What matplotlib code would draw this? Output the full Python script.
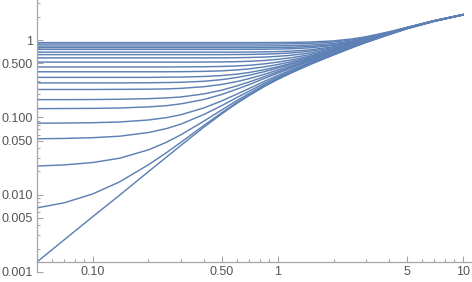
import numpy as np
import matplotlib
matplotlib.use("Agg")
import matplotlib.pyplot as plt
from matplotlib.ticker import LogLocator, NullFormatter

plt.rcParams['font.family'] = ['Liberation Sans', 'DejaVu Sans']

# sample positions along x
x_pts = [0.05, 0.07, 0.1, 0.14, 0.2, 0.25, 0.3, 0.4, 0.5, 0.6, 0.7,
         0.85, 1.0, 1.2, 1.5, 2.0, 2.5, 3.0, 4.0, 5.0, 7.0, 10.0]

# curves from top (flat level ~0.93) down to the lowest straight one
c01 = [0.93, 0.93, 0.93, 0.93, 0.93, 0.93, 0.93, 0.93, 0.93, 0.93, 0.93,
       0.931, 0.933, 0.937, 0.947, 0.979, 1.035, 1.109, 1.284, 1.470, 1.785, 2.135]
c02 = [0.89, 0.89, 0.89, 0.89, 0.89, 0.89, 0.89, 0.89, 0.89, 0.89, 0.89,
       0.891, 0.893, 0.898, 0.909, 0.946, 1.006, 1.086, 1.269, 1.460, 1.779, 2.131]
c03 = [0.84, 0.84, 0.84, 0.84, 0.84, 0.84, 0.84, 0.84, 0.84, 0.84, 0.84,
       0.842, 0.844, 0.849, 0.863, 0.905, 0.973, 1.060, 1.253, 1.450, 1.773, 2.128]
c04 = [0.80, 0.80, 0.80, 0.80, 0.80, 0.80, 0.80, 0.80, 0.80, 0.80, 0.80,
       0.802, 0.805, 0.810, 0.826, 0.873, 0.948, 1.041, 1.242, 1.443, 1.770, 2.126]
c05 = [0.76, 0.76, 0.76, 0.76, 0.76, 0.76, 0.76, 0.76, 0.76, 0.76, 0.761,
       0.764, 0.767, 0.776, 0.797, 0.854, 0.938, 1.037, 1.242, 1.445, 1.772, 2.128]
c06 = [0.70, 0.70, 0.70, 0.70, 0.70, 0.70, 0.70, 0.70, 0.70, 0.70, 0.702,
       0.706, 0.711, 0.723, 0.751, 0.821, 0.915, 1.022, 1.235, 1.441, 1.771, 2.128]
c07 = [0.65, 0.65, 0.65, 0.65, 0.65, 0.65, 0.65, 0.65, 0.65, 0.652, 0.654,
       0.660, 0.669, 0.685, 0.721, 0.804, 0.906, 1.018, 1.236, 1.443, 1.773, 2.130]
c08 = [0.59, 0.59, 0.59, 0.59, 0.59, 0.59, 0.59, 0.59, 0.591, 0.593, 0.597,
       0.605, 0.618, 0.640, 0.684, 0.779, 0.890, 1.008, 1.231, 1.441, 1.773, 2.130]
c09 = [0.52, 0.52, 0.52, 0.52, 0.52, 0.52, 0.52, 0.521, 0.523, 0.527, 0.533,
       0.546, 0.565, 0.595, 0.651, 0.760, 0.880, 1.002, 1.230, 1.442, 1.775, 2.133]
c10 = [0.45, 0.45, 0.45, 0.45, 0.45, 0.45, 0.451, 0.453, 0.457, 0.464, 0.473,
       0.494, 0.520, 0.558, 0.625, 0.746, 0.873, 0.999, 1.231, 1.444, 1.779, 2.137]
c11 = [0.39, 0.39, 0.39, 0.39, 0.39, 0.39, 0.391, 0.395, 0.401, 0.412, 0.425,
       0.452, 0.484, 0.530, 0.605, 0.734, 0.866, 0.995, 1.230, 1.444, 1.779, 2.138]
c12 = [0.33, 0.33, 0.33, 0.33, 0.33, 0.332, 0.333, 0.339, 0.349, 0.363, 0.382,
       0.416, 0.453, 0.506, 0.588, 0.724, 0.860, 0.992, 1.229, 1.445, 1.782, 2.141]
c13 = [0.28, 0.28, 0.28, 0.280, 0.281, 0.283, 0.285, 0.294, 0.309, 0.329, 0.352,
       0.392, 0.435, 0.492, 0.579, 0.721, 0.860, 0.994, 1.234, 1.451, 1.789, 2.146]
c14 = [0.23, 0.23, 0.23, 0.231, 0.232, 0.234, 0.238, 0.250, 0.268, 0.291, 0.318,
       0.363, 0.410, 0.471, 0.562, 0.707, 0.849, 0.984, 1.226, 1.444, 1.784, 2.144]
c15 = [0.170, 0.170, 0.1705, 0.172, 0.175, 0.179, 0.184, 0.202, 0.226, 0.256, 0.288,
       0.339, 0.390, 0.455, 0.551, 0.702, 0.846, 0.983, 1.228, 1.448, 1.787, 2.147]
c16 = [0.130, 0.1304, 0.131, 0.1325, 0.137, 0.142, 0.150, 0.171, 0.199, 0.232, 0.266,
       0.321, 0.374, 0.441, 0.539, 0.692, 0.838, 0.976, 1.221, 1.443, 1.784, 2.146]
c17 = [0.0842, 0.0846, 0.0855, 0.0874, 0.0927, 0.0994, 0.1085, 0.1332, 0.1644, 0.2002, 0.2369,
       0.2944, 0.3497, 0.4192, 0.5197, 0.6749, 0.8228, 0.9623, 1.209, 1.430, 1.773, 2.135]
c18 = [0.0530, 0.0535, 0.0547, 0.0572, 0.0638, 0.0717, 0.0821, 0.1096, 0.1431, 0.1806, 0.2189,
       0.278, 0.3343, 0.4048, 0.5063, 0.6627, 0.8112, 0.952, 1.200, 1.422, 1.765, 2.128]
c19 = [0.0235, 0.0243, 0.0261, 0.0297, 0.0381, 0.0477, 0.0598, 0.0901, 0.1258, 0.1649, 0.2044,
       0.2649, 0.3222, 0.3938, 0.4963, 0.6539, 0.8033, 0.944, 1.193, 1.415, 1.759, 2.123]
c20 = [0.00676, 0.00785, 0.01024, 0.0147, 0.02443, 0.03494, 0.0478, 0.0793, 0.1159, 0.1557, 0.1958,
       0.2567, 0.3144, 0.3864, 0.4892, 0.6473, 0.797, 0.938, 1.187, 1.410, 1.754, 2.118]
c21 = [0.00135, 0.0026, 0.0052, 0.0099, 0.0199, 0.0306, 0.0436, 0.0753, 0.112, 0.152, 0.192,
       0.253, 0.311, 0.383, 0.486, 0.644, 0.794, 0.935, 1.184, 1.407, 1.751, 2.115]

curves = [c01, c02, c03, c04, c05, c06, c07, c08, c09, c10,
          c11, c12, c13, c14, c15, c16, c17, c18, c19, c20, c21]

x_ticks = [0.1, 0.5, 1, 5, 10]
x_labels = ["0.10", "0.50", "1", "5", "10"]
y_ticks = [0.001, 0.005, 0.01, 0.05, 0.1, 0.5, 1]
y_labels = ["0.001", "0.005", "0.010", "0.050", "0.100", "0.500", "1"]

line_col = '#5E81B5'
axis_col = '#A6A6A6'
label_col = '#555555'

fig = plt.figure(figsize=(4.72, 2.82), dpi=100)
ax = fig.add_axes([37 / 472, 10 / 282, 435 / 472, 272 / 282])

for c in curves:
    ax.plot(x_pts, c, color=line_col, lw=1.05, solid_joinstyle='round')

ax.set_xscale('log')
ax.set_yscale('log')
ax.set_xlim(0.05, 11.2)
ax.set_ylim(0.001, 3.31)

ax.spines['top'].set_visible(False)
ax.spines['right'].set_visible(False)
ax.spines['bottom'].set_position(('data', 0.00135))
for s in ('left', 'bottom'):
    ax.spines[s].set_color(axis_col)
    ax.spines[s].set_linewidth(0.9)

ax.set_xticks(x_ticks, x_labels)
ax.set_yticks(y_ticks, y_labels)
ax.xaxis.set_minor_locator(LogLocator(base=10, subs=np.arange(2, 10), numticks=20))
ax.yaxis.set_minor_locator(LogLocator(base=10, subs=np.arange(2, 10), numticks=20))
ax.xaxis.set_minor_formatter(NullFormatter())
ax.yaxis.set_minor_formatter(NullFormatter())

ax.tick_params(which='both', direction='in', color=axis_col, labelcolor=label_col,
               labelsize=9, width=0.8)
ax.tick_params(which='major', length=4)
ax.tick_params(which='minor', length=2.2)
ax.tick_params(axis='x', pad=3)
ax.tick_params(axis='y', pad=3)

fig.savefig("out.png", dpi=100)
